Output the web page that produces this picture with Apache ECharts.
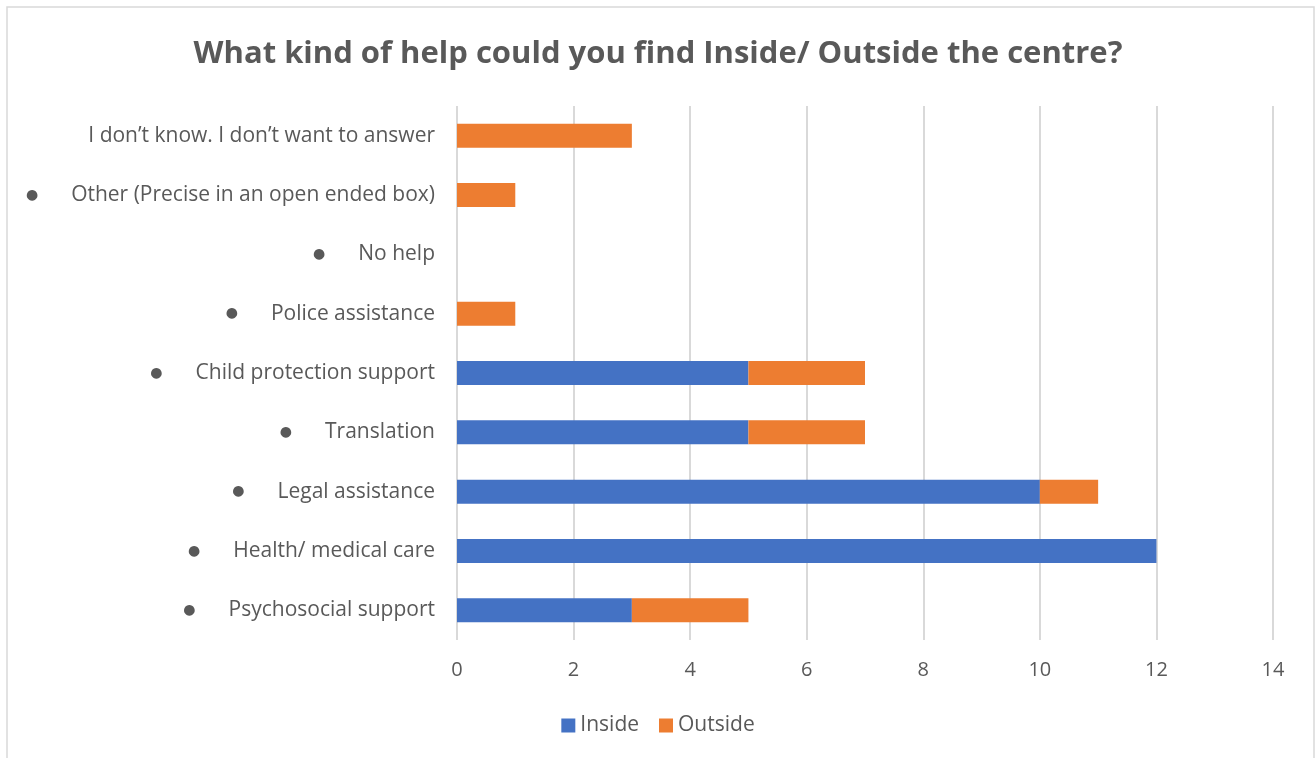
<!DOCTYPE html>
<html>
<head>
<meta charset="utf-8">
<script src="https://cdn.jsdelivr.net/npm/echarts@6/dist/echarts.min.js"></script>
<style>
  html, body { margin: 0; padding: 0; background: #fff; }
  #chart { width: 1316px; height: 758px; }
</style>
</head>
<body>
<div id="chart"></div>
<script>
// Help types, listed bottom to top as the category axis draws them
const categories = [
  'Psychosocial support',
  'Health/ medical care',
  'Legal assistance',
  'Translation',
  'Child protection support',
  'Police assistance',
  'No help',
  'Other (Precise in an open ended box)',
  'I don\u2019t know. I don\u2019t want to answer'
];
// Which labels are shown as bullet points
const bulleted = [true, true, true, true, true, true, true, true, false];

const insideValues  = [3, 12, 10, 5, 5, 0, 0, 0, 0];
const outsideValues = [2, 0, 1, 2, 2, 1, 0, 1, 3];

const xTicks = { min: 0, max: 14, interval: 2 };

const FONT = 'Open Sans';
const GREY = '#595959';

const chart = echarts.init(document.getElementById('chart'));

chart.setOption({
  animation: false,
  backgroundColor: '#ffffff',
  textStyle: { fontFamily: FONT },
  title: {
    text: 'What kind of help could you find Inside/ Outside the centre?',
    left: 'center',
    top: 34,
    textStyle: { fontFamily: FONT, fontSize: 31, fontWeight: 'bold', color: GREY }
  },
  graphic: [{
    type: 'rect',
    shape: { x: 7, y: 7, width: 1307, height: 770 },
    style: { fill: 'none', stroke: '#d9d9d9', lineWidth: 1.5 },
    silent: true
  }],
  legend: {
    bottom: 17,
    left: 'center',
    itemWidth: 14,
    itemHeight: 14,
    itemGap: 20,
    icon: 'rect',
    textStyle: { fontFamily: FONT, fontSize: 21, color: GREY },
    data: ['Inside', 'Outside']
  },
  grid: { left: 457, right: 43, top: 106, bottom: 118, containLabel: false },
  xAxis: {
    type: 'value',
    min: xTicks.min,
    max: xTicks.max,
    interval: xTicks.interval,
    axisLine: { show: false },
    axisTick: { show: false },
    splitLine: { lineStyle: { color: '#d9d9d9', width: 2 } },
    axisLabel: { margin: 20, fontSize: 20, color: GREY, fontFamily: FONT }
  },
  yAxis: {
    type: 'category',
    data: categories,
    axisLine: { show: false },
    axisTick: { show: false },
    axisLabel: {
      margin: 22,
      color: GREY,
      fontFamily: FONT,
      fontSize: 21,
      formatter: function (value, idx) {
        return bulleted[idx] ? '{b|\u25CF}{t|' + value + '}' : '{t|' + value + '}';
      },
      rich: {
        b: { fontSize: 14, color: GREY, fontFamily: 'DejaVu Sans', padding: [0, 33, 0, 0] },
        t: { fontSize: 21, color: GREY, fontFamily: FONT }
      }
    }
  },
  series: [
    {
      name: 'Inside',
      type: 'bar',
      stack: 'total',
      barWidth: 24,
      itemStyle: { color: '#4472C4' },
      data: insideValues
    },
    {
      name: 'Outside',
      type: 'bar',
      stack: 'total',
      barWidth: 24,
      itemStyle: { color: '#ED7D31' },
      data: outsideValues
    }
  ]
});
</script>
</body>
</html>
